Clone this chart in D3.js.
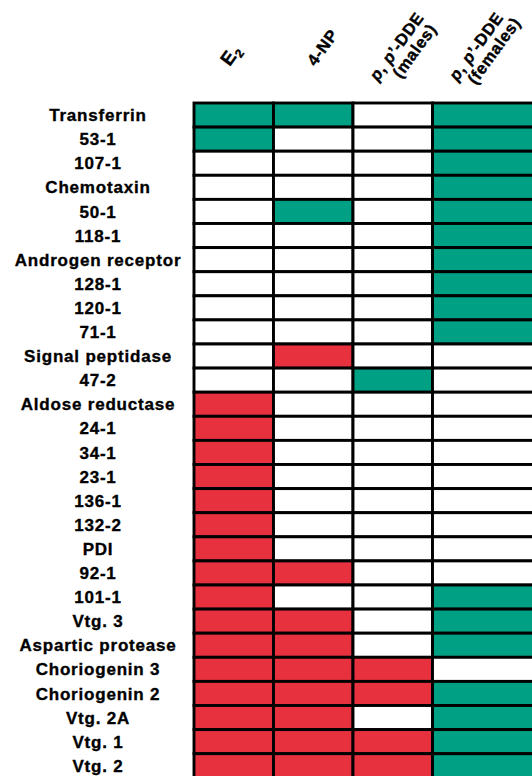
<!DOCTYPE html>
<html>
<head>
<meta charset="utf-8">
<script src="https://cdn.jsdelivr.net/npm/d3@7"></script>
<style>
  html, body { margin: 0; padding: 0; background: #fff; }
  svg { display: block; }
</style>
</head>
<body>
<svg id="chart" width="532" height="776"></svg>
<script>
// ---- data ----
const genes = ["Transferrin","53-1","107-1","Chemotaxin","50-1","118-1","Androgen receptor",
  "128-1","120-1","71-1","Signal peptidase","47-2","Aldose reductase","24-1","34-1","23-1",
  "136-1","132-2","PDI","92-1","101-1","Vtg. 3","Aspartic protease","Choriogenin 3",
  "Choriogenin 2","Vtg. 2A","Vtg. 1","Vtg. 2"];
const treatments = ["E2", "4-NP", "DDE males", "DDE females"];
// 1 = up-regulated (red), -1 = down-regulated (green), 0 = no change
const e2      = [-1,-1,0,0,0,0,0,0,0,0,0,0,1,1,1,1,1,1,1,1,1,1,1,1,1,1,1,1];
const np4     = [-1,0,0,0,-1,0,0,0,0,0,1,0,0,0,0,0,0,0,0,1,0,1,1,1,1,1,1,1];
const ddeM    = [0,0,0,0,0,0,0,0,0,0,0,-1,0,0,0,0,0,0,0,0,0,0,0,1,1,0,1,1];
const ddeF    = [-1,-1,-1,-1,-1,-1,-1,-1,-1,-1,0,0,0,0,0,0,0,0,0,0,-1,-1,-1,0,-1,-1,-1,-1];
const series  = [e2, np4, ddeM, ddeF];

// ---- layout ----
const W = 532, H = 776;
const svg = d3.select("#chart");
const x = d3.scaleBand().domain(treatments).range([194, 512]).paddingInner(0);
const y = d3.scaleBand().domain(genes).range([103, 103 + 24.1 * genes.length]).paddingInner(0);
const color = d3.scaleOrdinal().domain([1, 0, -1]).range(["#e8313f", "#ffffff", "#00a084"]);

const cells = [];
treatments.forEach((t, ci) => genes.forEach((g, ri) => cells.push({t, g, v: series[ci][ri], last: ci === treatments.length - 1})));

svg.append("g").selectAll("rect").data(cells).join("rect")
  .attr("x", d => x(d.t))
  .attr("y", d => y(d.g))
  .attr("width", d => d.last ? (W + 6 - x(d.t)) : x.bandwidth())
  .attr("height", y.bandwidth())
  .attr("fill", d => color(d.v))
  .attr("stroke", "#000")
  .attr("stroke-width", 2.9);

// row labels
svg.append("g").selectAll("text").data(genes).join("text")
  .attr("x", 98)
  .attr("y", d => y(d) + y.bandwidth() / 2)
  .attr("dy", "0.36em")
  .attr("text-anchor", "middle")
  .style("font-family", "'Liberation Sans', Arial, sans-serif")
  .style("font-weight", "bold")
  .style("font-size", "17px")
  .style("letter-spacing", "0.8px")
  .attr("fill", "#000")
  .attr("stroke", "#000")
  .attr("stroke-width", 0.35)
  .text(d => d);

// column headers
const angle = -54;
const hfont = g => g.style("font-family", "'Liberation Sans', Arial, sans-serif")
  .style("font-weight", "bold").style("font-size", "16.5px").style("letter-spacing", "0.6px")
  .attr("fill", "#000").attr("stroke", "#000").attr("stroke-width", 0.4);

function single(t, dx, build) {
  const cx = x(t) + x.bandwidth() / 2;
  const g = svg.append("g").attr("transform", `translate(${cx + dx},67) rotate(${angle})`);
  const tx = g.append("text").call(hfont);
  build(tx);
}
single("E2", -4, tx => {
  tx.append("tspan").style("font-size", "19px").text("E");
  tx.append("tspan").attr("dy", 4).style("font-size", "12px").text("2");
});
single("4-NP", 2, tx => tx.text("4-NP"));

function ddeHeader(t, sub) {
  const cx = x(t) + x.bandwidth() / 2;
  const g = svg.append("g").attr("transform", `translate(${cx - 15},82) rotate(${angle})`);
  const l1 = g.append("text").call(hfont);
  l1.append("tspan").style("font-style", "italic").text("p");
  l1.append("tspan").text(", ");
  l1.append("tspan").style("font-style", "italic").text("p");
  l1.append("tspan").text("’-DDE");
  const w1 = l1.node().getComputedTextLength();
  g.append("text").call(hfont).attr("text-anchor", "middle")
    .attr("x", w1 / 2 + 7).attr("y", 17).text(sub);
}
ddeHeader("DDE males", "(males)");
ddeHeader("DDE females", "(females)");
</script>
</body>
</html>
